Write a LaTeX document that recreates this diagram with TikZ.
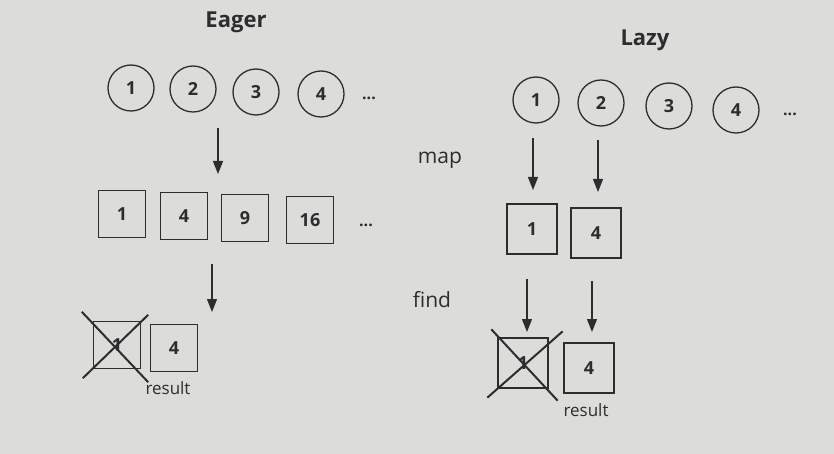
\documentclass[tikz,border=0pt]{standalone}
\usepackage{fontspec}
\setmainfont{Open Sans}
\usetikzlibrary{arrows.meta,calc}
\definecolor{bg}{RGB}{220,220,218}
\definecolor{ink}{RGB}{45,45,45}
\begin{document}
\begin{tikzpicture}[x=1pt,y=-1pt,
  every node/.style={text=ink},
  num/.style={circle,draw=ink,line width=1.3pt,minimum size=46pt,inner sep=0pt,font=\fontsize{18}{20}\selectfont\bfseries},
  sq/.style={rectangle,draw=ink,line width=1.3pt,minimum size=47pt,inner sep=0pt,font=\fontsize{18}{20}\selectfont\bfseries},
  ttl/.style={font=\fontsize{22}{24}\selectfont\bfseries},
  lbl/.style={font=\fontsize{21}{23}\selectfont},
  small/.style={font=\fontsize{17}{19}\selectfont},
  dots/.style={font=\fontsize{16}{18}\selectfont\bfseries},
  arr/.style={draw=ink,line width=1.3pt,-{Triangle[length=13pt,width=10pt]}},
  xline/.style={draw=ink,line width=2pt}]
\fill[bg] (0,0) rectangle (834,454);
\useasboundingbox (0,0) rectangle (834,454);
% Eager
\node[ttl] (eager) at (236,22) {Eager};
\node[num] (e1) at (131,88) {1};
\node[num] (e2) at (193,89) {2};
\node[num] (e3) at (256,92) {3};
\node[num] (e4) at (321,94) {4};
\node[dots] (ed1) at (369,98) {...};
\coordinate (ea1s) at (218,128);
\coordinate (ea1e) at (218,174);
\draw[arr] (ea1s) -- (ea1e);
\node[sq] (es1) at (122,214) {1};
\node[sq] (es2) at (184,216) {4};
\node[sq] (es3) at (245,218) {9};
\node[sq] (es4) at (310,220) {16};
\node[dots] (ed2) at (366,225) {...};
\coordinate (ea2s) at (212,264);
\coordinate (ea2e) at (212,312);
\draw[arr] (ea2s) -- (ea2e);
\node[sq] (ex) at (117,345) {1};
\node[sq] (er) at (174,348) {4};
\draw[xline] ($(ex.north west)+(-11,-9)$) -- ($(ex.south east)+(7,13)$);
\draw[xline] ($(ex.south west)+(-10,9)$) -- ($(ex.north east)+(7,-6)$);
\node[small] (eres) at (168,388) {result};
% middle
\node[lbl] (map) at (440,160) {map};
\node[lbl] (find) at (432,300) {find};
% Lazy
\node[ttl] (lazy) at (645,40) {Lazy};
\node[num] (l1) at (536,100) {1};
\node[num] (l2) at (601,103) {2};
\node[num] (l3) at (669,106) {3};
\node[num] (l4) at (736,110) {4};
\node[dots] (ld1) at (790,114) {...};
\coordinate (la1s) at (533,138);
\coordinate (la1e) at (533,190);
\coordinate (la2s) at (598,140);
\coordinate (la2e) at (598,192);
\draw[arr] (la1s) -- (la1e);
\draw[arr] (la2s) -- (la2e);
\node[sq,minimum size=50pt] (ls1) at (532,229) {1};
\node[sq,minimum size=50pt] (ls2) at (596,233) {4};
\coordinate (la3s) at (527,279);
\coordinate (la3e) at (527,332);
\coordinate (la4s) at (592,281);
\coordinate (la4e) at (592,332);
\draw[arr] (la3s) -- (la3e);
\draw[arr] (la4s) -- (la4e);
\node[sq,minimum size=50pt] (lx) at (523,363) {1};
\node[sq,minimum size=50pt] (lr) at (589,368) {4};
\draw[xline] ($(lx.north west)+(-6,-8)$) -- ($(lx.south east)+(9,12)$);
\draw[xline] ($(lx.south west)+(-10,9)$) -- ($(lx.north east)+(14,-6)$);
\node[small] (lres) at (586,410) {result};
\end{tikzpicture}
\end{document}
